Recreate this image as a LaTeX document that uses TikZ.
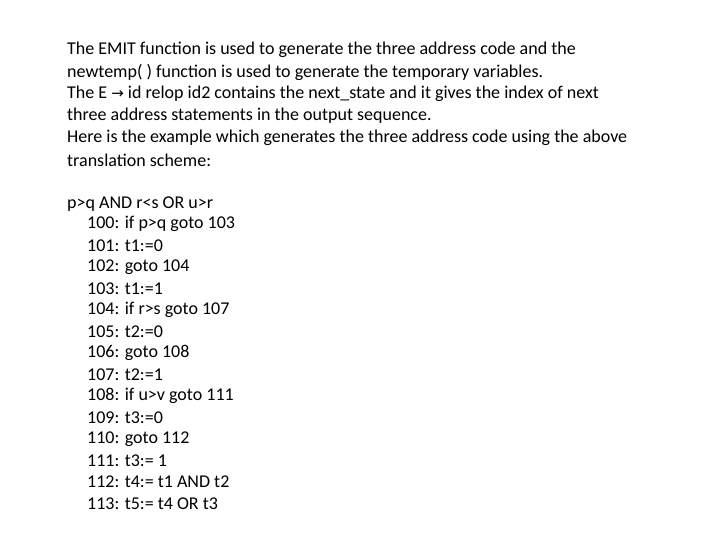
\documentclass[tikz,border=0pt]{standalone}
\usepackage{fontspec}
\setmainfont{Carlito}
\newfontfamily\symfont{DejaVu Sans}
\begin{document}
\begin{tikzpicture}[x=1pt,y=-1pt,txt/.style={anchor=west,inner sep=0pt,font=\fontsize{18}{21}\selectfont}]
\useasboundingbox[fill=white] (0,0) rectangle (720,540);
\node[txt] (l1) at (67,50) {The EMIT function is used to generate the three address code and the};
\node[txt] (l2) at (67,72) {newtemp( ) function is used to generate the temporary variables.};
\node[txt] (l3) at (67,94) {The E {\symfont\fontsize{15}{18}\selectfont→} id relop id2 contains the next\_state and it gives the index of next};
\node[txt] (l4) at (67,116) {three address statements in the output sequence.};
\node[txt] (l5) at (67,138) {Here is the example which generates the three address code using the above};
\node[txt] (l6) at (67,160) {translation scheme:};
\node[txt] (e0) at (67,204) {p>q AND r<s OR u>r};
\foreach \t [count=\i from 0] in {100: if p>q goto 103,101: t1:=0,102: goto 104,103: t1:=1,104: if r>s goto 107,105: t2:=0,106: goto 108,107: t2:=1,108: if u>v goto 111,109: t3:=0,110: goto 112,111: t3:= 1,112: t4:= t1 AND t2,113: t5:= t4 OR t3}
  \node[txt] (c\i) at (87,224+21.5*\i) {\t};
\end{tikzpicture}
\end{document}
